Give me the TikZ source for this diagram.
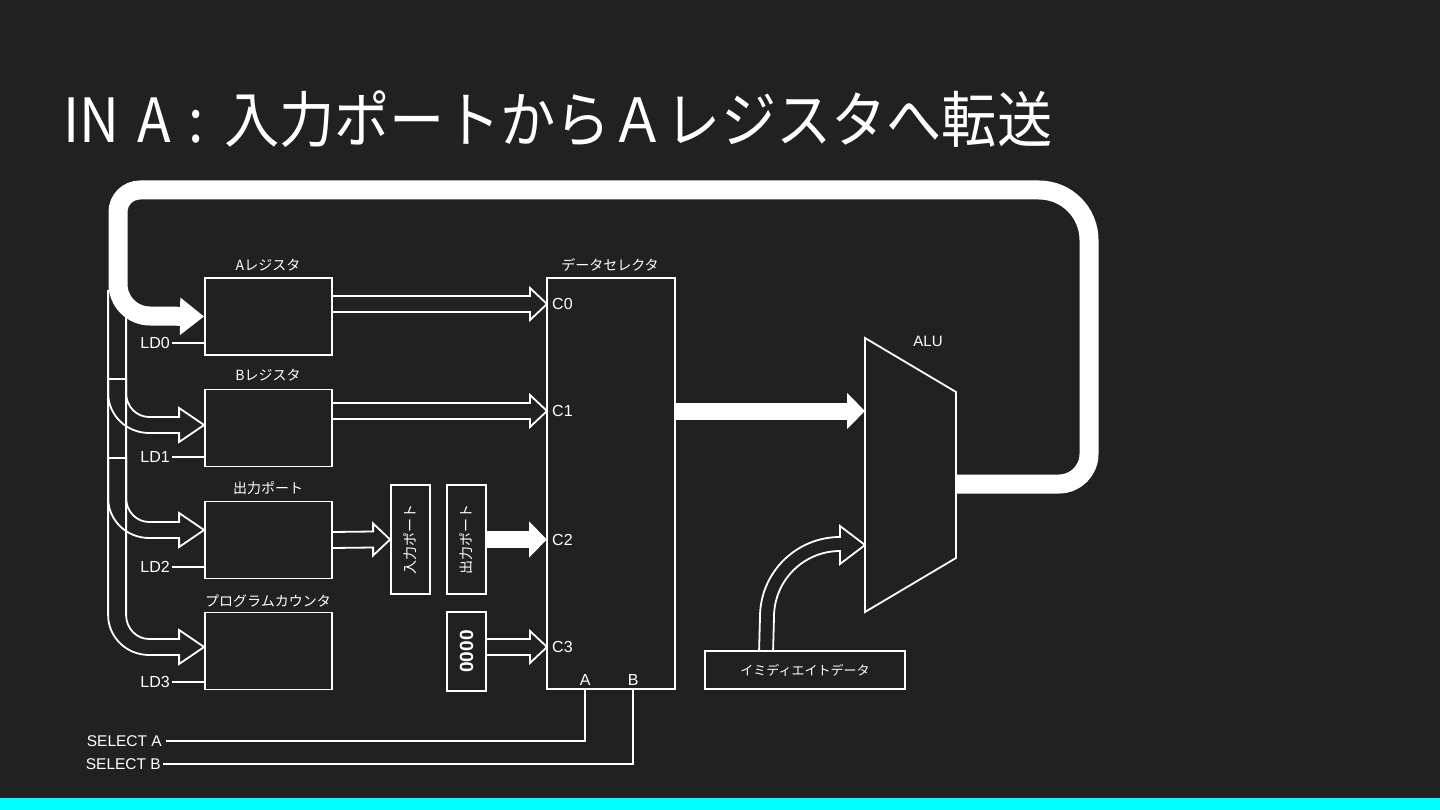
\documentclass[tikz,border=0pt]{standalone}
\usepackage{fontspec}
\setmainfont{Liberation Sans}
\newfontfamily\jpfont{Noto Sans CJK JP}
\usetikzlibrary{arrows.meta, calc}

\definecolor{slidebg}{HTML}{212121}
\definecolor{slidebar}{HTML}{00FFFF}

\tikzset{
  wire/.style={draw=white, line width=1.8pt, line join=miter},
  regbox/.style={draw=white, line width=1.8pt, minimum width=127pt, minimum height=77pt, inner sep=0pt},
  vbox/.style={draw=white, line width=1.8pt, minimum width=39pt, inner sep=0pt, text=white},
  jplabel/.style={text=white, inner sep=0pt, font=\jpfont\fontsize{14}{14}\selectfont},
  sig/.style={text=white, inner sep=0pt, font=\fontsize{16}{16}\selectfont},
  fat/.style={white, line width=17pt, -{Triangle[length=18pt, width=35pt]}},
}

% hollow straight arrow: #1 start, #2 tip (same height)
\newcommand{\hollowarrow}[2]{%
  \draw[wire] ($(#1)+(0,-8)$) -- ($(#2)+(-17,-8)$) -- ($(#2)+(-17,-16)$) -- (#2)
    -- ($(#2)+(-17,16)$) -- ($(#2)+(-17,8)$) -- ($(#1)+(0,8)$);}

% hollow bend from the load bus: #1 tip, #2 drop, #3 closing
\newcommand{\busarrow}[3]{%
  \draw[wire, shift={(#1)}] (-96,-#2) -- (-96,-32)
    arc[start angle=180, end angle=90, x radius=41, y radius=40]
    -- (-25,8) -- (-25,17) -- (0,0) -- (-25,-17) -- (-25,-8) -- (-55,-8)
    arc[start angle=90, end angle=180, x radius=23, y radius=24] -- (-78,-#2) #3;}

\begin{document}
\begin{tikzpicture}[x=1pt, y=-1pt]
% slide background
\fill[slidebg] (0,0) rectangle (1440,810);
\fill[slidebar] (0,798) rectangle (1440,810);
\useasboundingbox (0,0) rectangle (1440,810);

\node[anchor=base west, inner sep=0pt, text=white, font=\jpfont\fontsize{61}{61}\selectfont] (title) at (63,143)
  {\scalebox{0.905}[1]{IN\hspace{20pt}A\hspace{19pt}:\hspace{23pt}入力ポートからＡレジスタへ転送}};

% registers
\node[regbox] (areg) at (268.5,316.5) {};
\node[regbox] (breg) at (268.5,428) {};
\node[regbox] (oreg) at (268.5,540) {};
\node[regbox] (pcreg) at (268.5,651) {};
\node[jplabel] (lblA) at (268,265) {Aレジスタ};
\node[jplabel] (lblB) at (268,375) {Bレジスタ};
\node[jplabel] (lblO) at (268,488) {出力ポート};
\node[jplabel] (lblPC) at (268,601) {プログラムカウンタ};

% load signals
\foreach \n/\r/\y in {0/areg/343, 1/breg/457, 2/oreg/567, 3/pcreg/682} {
  \node[sig, anchor=east] (ld\n) at (170,\y) {LD\n};
  \draw[wire, shorten <=2pt] (ld\n.east) -- (\r.west |- ld\n.east);
}

% load bus bends
\coordinate (inPC) at ($(pcreg.west)+(0,-4)$);
\coordinate (inO) at ($(oreg.west)+(0,-10)$);
\coordinate (inB) at ($(breg.west)+(0,-3)$);
\busarrow{inPC}{357}{}
\busarrow{inO}{72}{-- cycle}
\busarrow{inB}{46}{-- cycle}

% data selector
\node[draw=white, line width=1.8pt, minimum width=128pt, minimum height=411pt, inner sep=0pt] (sel) at (611,483.5) {};
\node[jplabel] (lblsel) at (610,265) {データセレクタ};
\coordinate (c0) at (547,304);
\coordinate (c1) at (547,411);
\coordinate (c2) at (547,539.5);
\coordinate (c3) at (547,647);
\foreach \k in {0,...,3}
  \node[sig, anchor=west] (lc\k) at ($(c\k)+(5,0)$) {C\k};
\coordinate (pinA) at ($(sel.south west)+(39,0)$);
\coordinate (pinB) at ($(sel.south west)+(87,0)$);
\node[sig, anchor=base] (lpa) at ($(pinA)+(0,-4)$) {A};
\node[sig, anchor=base] (lpb) at ($(pinB)+(0,-4)$) {B};

% ports and constant
\node[vbox, minimum height=109pt, font=\jpfont\fontsize{14}{14}\selectfont] (ipbox) at (410.5,539.5) {\rotatebox{90}{入力ポート}};
\node[vbox, minimum height=109pt, font=\jpfont\fontsize{14}{14}\selectfont] (opbox) at (466.5,539.5) {\rotatebox{90}{出力ポート}};
\node[vbox, minimum height=79pt, font=\bfseries\fontsize{19}{19}\selectfont] (zbox) at (466.5,651.5) {\rotatebox{90}{0000}};

\hollowarrow{areg.east |- c0}{c0}
\hollowarrow{breg.east |- c1}{c1}
\hollowarrow{oreg.east}{ipbox.west}
\hollowarrow{zbox.east |- c3}{c3}
\draw[fat] (opbox.east) -- (c2);

% ALU
\coordinate (aluin1) at (865,411);
\coordinate (aluin2) at (865,545);
\coordinate (aluout) at (956,484);
\draw[wire] (865,338) -- (956,392) -- (956,558) -- (865,612) -- cycle;
\node[sig, font=\fontsize{15}{15}\selectfont] (lblalu) at (928,341) {ALU};
\draw[fat] (sel.east |- aluin1) -- (aluin1);

% immediate data
\node[draw=white, line width=1.8pt, minimum width=200pt, minimum height=38pt, inner sep=0pt, text=white, font=\jpfont\fontsize{13}{13}\selectfont] (imm) at (805,670) {イミディエイトデータ};
\draw[wire] ($(imm.north west)+(55,0)$) -- (760,617) arc[start angle=180, end angle=270, radius=80]
  -- (840,526) -- (aluin2) -- (840,564) -- (840,551)
  arc[start angle=270, end angle=180, radius=66] -- ($(imm.north west)+(69,0)$);

% write back loop
\draw[white, line width=19pt, -{Triangle[length=24pt, width=36pt]}] (aluout) -- (1059,484)
  arc[start angle=90, end angle=0, radius=30] -- (1089,240)
  arc[start angle=0, end angle=-90, radius=50] -- (140,190)
  arc[start angle=-90, end angle=-180, radius=22] -- (118,284)
  arc[start angle=180, end angle=90, radius=32] -- (areg.west);

% select lines
\node[sig, anchor=east, font=\fontsize{15.5}{15.5}\selectfont] (sela) at (162,741) {SELECT A};
\node[sig, anchor=east, font=\fontsize{15.5}{15.5}\selectfont] (selb) at (161,764) {SELECT B};
\draw[wire, shorten <=4pt] (sela.east) -| (pinA);
\draw[wire, shorten <=2pt] (selb.east) -| (pinB);
\end{tikzpicture}
\end{document}
